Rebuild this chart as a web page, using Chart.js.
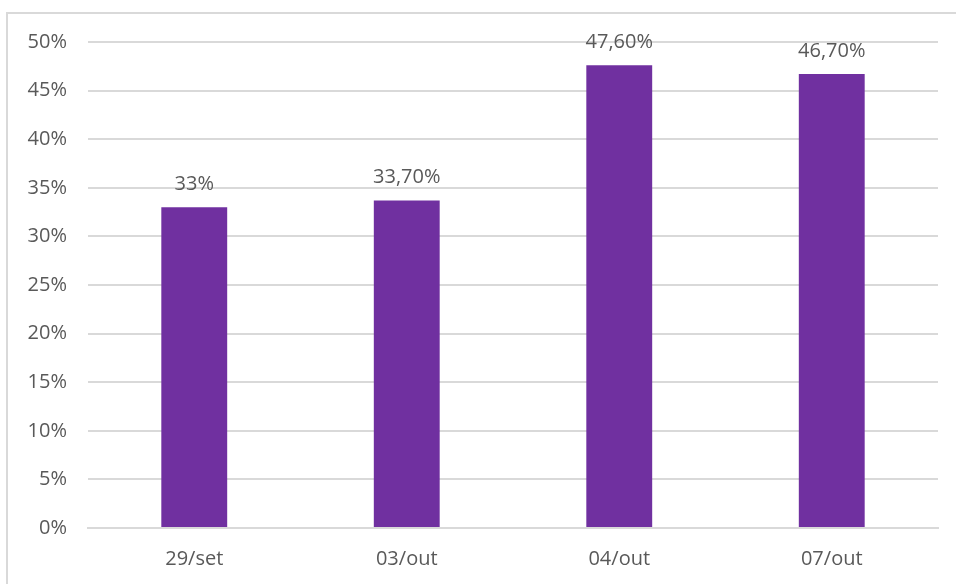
<!DOCTYPE html>
<html>
<head>
<meta charset="utf-8">
<script src="https://cdn.jsdelivr.net/npm/chart.js@4"></script>
<style>
  html, body { margin: 0; padding: 0; background: #fff; }
  #wrap { position: relative; width: 956px; height: 584px; overflow: hidden; }
  #frame { position: absolute; left: 6px; top: 12px; width: 1000px; height: 1000px;
           border-left: 2px solid #d9d9d9; border-top: 2px solid #d9d9d9; }
  canvas { position: absolute; left: 0; top: 0; }
</style>
</head>
<body>
<div id="wrap">
  <div id="frame"></div>
  <canvas id="grafico" width="956" height="584"></canvas>
</div>
<script>
// dados do gráfico
const categorias = ['29/set', '03/out', '04/out', '07/out'];
const valores = [33, 33.7, 47.6, 46.7];
const rotulos = ['33%', '33,70%', '47,60%', '46,70%'];
const ticksY = [0, 5, 10, 15, 20, 25, 30, 35, 40, 45, 50];

const fonte = "'Open Sans', 'Noto Sans', sans-serif";
const cinza = '#595959';

// escreve o valor por cima de cada barra
const rotuloBarras = {
  id: 'rotuloBarras',
  afterDatasetsDraw(chart) {
    const ctx = chart.ctx;
    const meta = chart.getDatasetMeta(0);
    ctx.save();
    ctx.font = '20px ' + fonte;
    ctx.fillStyle = cinza;
    ctx.textAlign = 'center';
    ctx.textBaseline = 'alphabetic';
    meta.data.forEach(function(barra, i) {
      ctx.fillText(rotulos[i], barra.x, barra.y - 17);
    });
    ctx.restore();
  }
};

const ctx = document.getElementById('grafico').getContext('2d');
new Chart(ctx, {
  type: 'bar',
  data: {
    labels: categorias,
    datasets: [{
      data: valores,
      backgroundColor: '#7030A0',
      borderWidth: 0,
      barPercentage: 0.31,
      categoryPercentage: 1
    }]
  },
  options: {
    responsive: false,
    animation: false,
    layout: { padding: { top: 42, right: 18, left: 0, bottom: 0 } },
    plugins: { legend: { display: false }, tooltip: { enabled: false } },
    scales: {
      x: {
        grid: { display: false, drawTicks: false },
        border: { display: true, color: '#d9d9d9', width: 2 },
        ticks: { color: cinza, font: { family: fonte, size: 20 }, padding: 19 },
        afterFit: function(scale) { scale.height = 56; }
      },
      y: {
        min: 0,
        max: 50,
        afterBuildTicks: function(scale) {
          scale.ticks = ticksY.map(function(v) { return { value: v }; });
        },
        grid: { color: '#d9d9d9', lineWidth: 2, drawTicks: false },
        border: { display: false },
        ticks: {
          color: cinza,
          font: { family: fonte, size: 20 },
          padding: 21,
          callback: function(v) { return v + '%'; }
        },
        afterFit: function(scale) { scale.width = 88; }
      }
    }
  },
  plugins: [rotuloBarras]
});
</script>
</body>
</html>
